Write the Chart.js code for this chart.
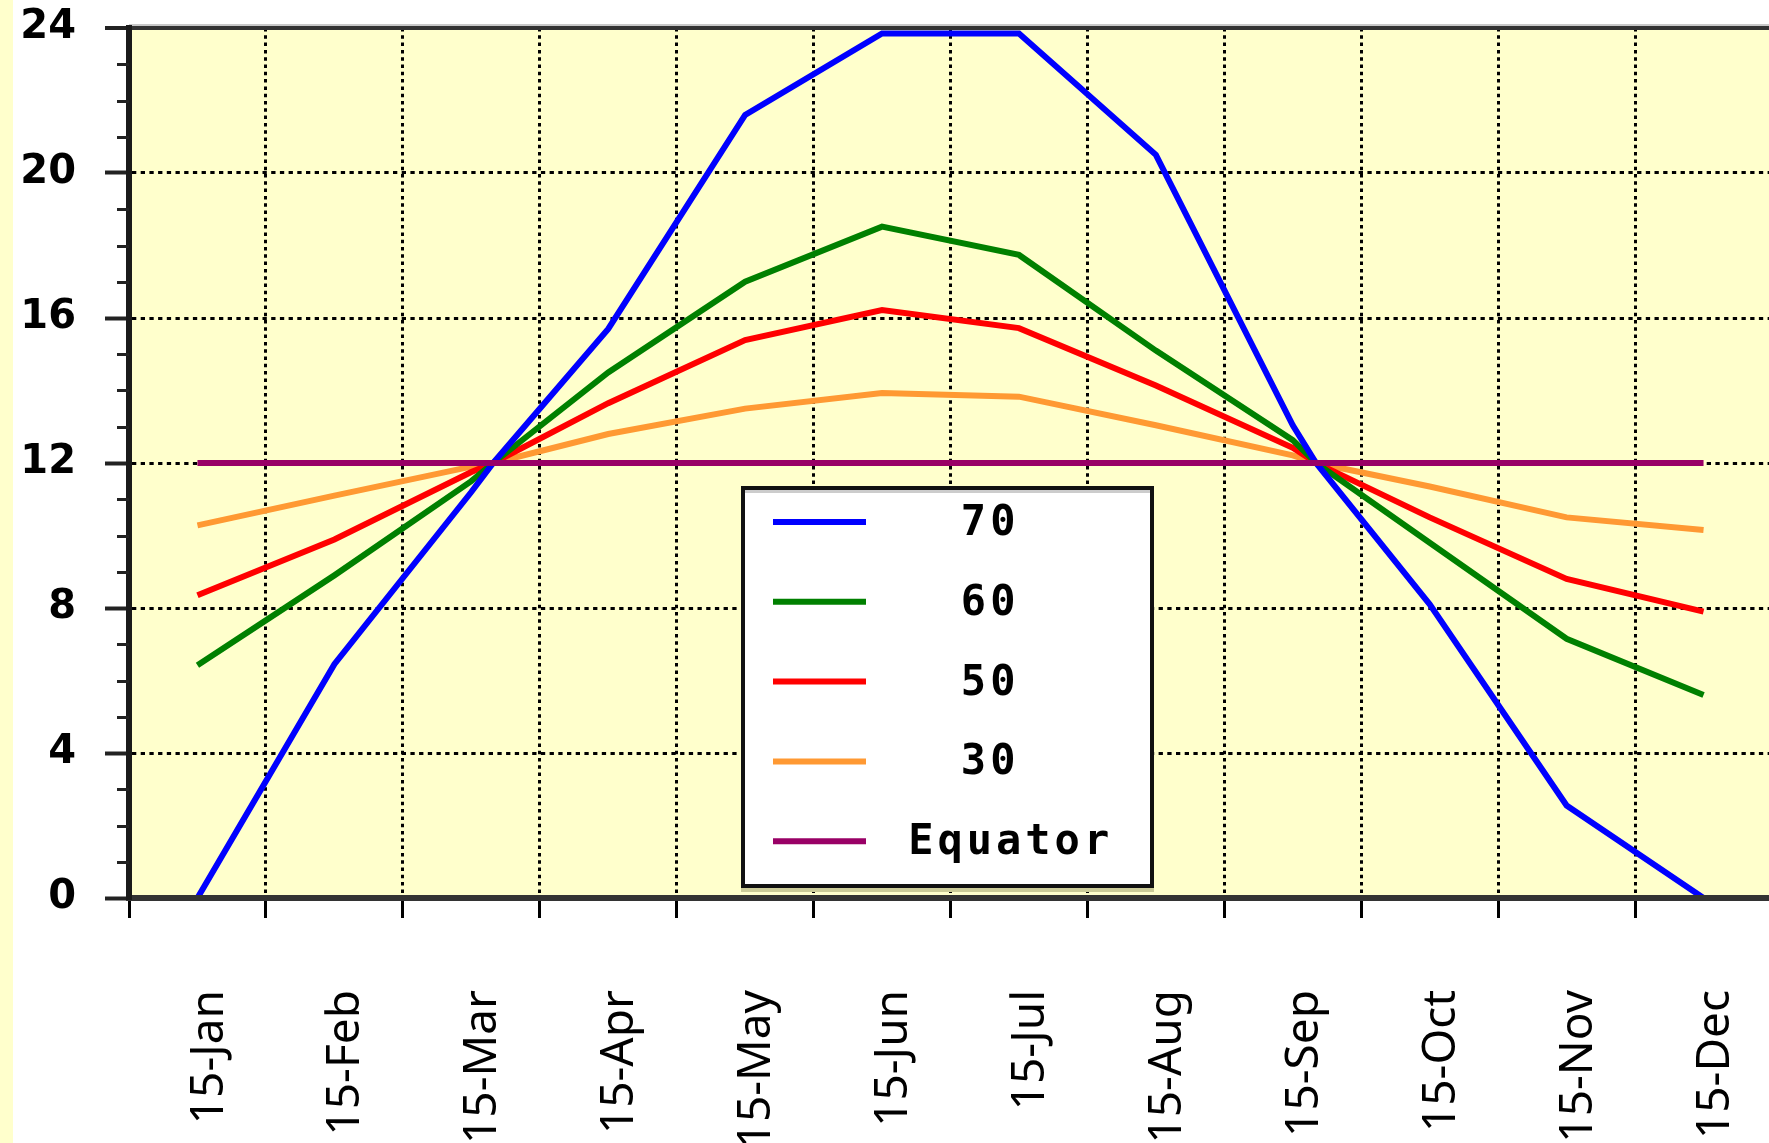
<!DOCTYPE html>
<html>
<head>
<meta charset="utf-8">
<script src="https://cdn.jsdelivr.net/npm/chart.js@4.4.1/dist/chart.umd.min.js"></script>
<style>
html, body { margin:0; padding:0; background:#ffffff; overflow:hidden; width:1769px; height:1143px; }
canvas { position:absolute; left:0; top:0; }
#strip { position:absolute; left:0; top:0; width:13px; height:1143px; background:#FFFFCC; }
</style>
</head>
<body>
<canvas id="c" width="1772" height="1143"></canvas>
<div id="strip"></div>
<script>
// ---- data ----
// category tick labels (one per month, index 0..11)
const months = ['15-Jan','15-Feb','15-Mar','15-Apr','15-May','15-Jun','15-Jul','15-Aug','15-Sep','15-Oct','15-Nov','15-Dec'];
// sample positions in month units (0 = 15-Jan); 2.16 and 8.17 are the equinoxes (~20-Mar, ~20-Sep)
const samplePos = [0, 1, 2, 2.16, 3, 4, 5, 6, 7, 8, 8.17, 9, 10, 11];
// day length (hours) per latitude at those positions
const lat70   = [0,    6.45, 11.2,  12, 15.7,  21.6,  23.85, 23.85, 20.5,  13.04, 12, 8.1,   2.55, 0];
const lat60   = [6.42, 8.9,  11.5,  12, 14.5,  17.0,  18.52, 17.74, 15.1,  12.63, 12, 9.8,   7.15, 5.6];
const lat50   = [8.35, 9.89, 11.75, 12, 13.65, 15.39, 16.22, 15.72, 14.14, 12.42, 12, 10.5,  8.8,  7.9];
const lat30   = [10.28, 11.1, 11.9, 12, 12.8,  13.5,  13.93, 13.83, 13.04, 12.21, 12, 11.35, 10.5, 10.15];
const equator = [12, 12, 12, 12, 12, 12, 12, 12, 12, 12, 12, 12, 12, 12];
const seriesLabels = ['70', '60', '50', '30', 'Equator'];
const yTickLabels = ['0', '4', '8', '12', '16', '20', '24'];

const seriesValues = [lat70, lat60, lat50, lat30, equator];
const seriesColors = ['#0000FF', '#008000', '#FF0000', '#FF9933', '#990066'];
const drawOrder = [1, 2, 3, 4, 0];

const bgPlugin = {
  id: 'bg',
  beforeDraw(chart) {
    const {ctx, chartArea: a} = chart;
    ctx.save();
    ctx.fillStyle = '#FFFFCC';
    ctx.fillRect(a.left, a.top, a.right - a.left, a.bottom - a.top);
    ctx.fillStyle = '#C8C8C8';
    ctx.fillRect(a.left, a.top - 4, a.right - a.left, 2);
    ctx.restore();
  }
};

const minorTicks = {
  id: 'minorTicks',
  afterDraw(chart) {
    const s = chart.scales.y;
    const ctx = chart.ctx;
    ctx.save();
    ctx.strokeStyle = '#222';
    ctx.lineWidth = 3;
    for (let v = 0; v <= 24; v++) {
      if (v % 4 === 0) continue;
      const y = Math.round(s.getPixelForValue(v)) + 0.5;
      ctx.beginPath();
      ctx.moveTo(s.right - 12, y);
      ctx.lineTo(s.right, y);
      ctx.stroke();
    }
    ctx.restore();
  }
};

const boxLegend = {
  id: 'boxLegend',
  afterDatasetsDraw(chart) {
    const ctx = chart.ctx;
    ctx.save();
    ctx.fillStyle = '#CCCC99';
    ctx.fillRect(741, 888, 413, 4);
    ctx.fillStyle = '#FFFFFF';
    ctx.fillRect(741, 486, 413, 402);
    ctx.fillStyle = '#CCCCCC';
    ctx.fillRect(745, 490, 405, 3);
    ctx.lineWidth = 4;
    ctx.strokeStyle = '#111';
    ctx.strokeRect(743, 488, 409, 398);
    chart.data.datasets.forEach((ds, i) => {
      const y = 522 + i * 79.8;
      ctx.strokeStyle = ds.borderColor;
      ctx.lineWidth = 6;
      ctx.beginPath();
      ctx.moveTo(773, y);
      ctx.lineTo(866, y);
      ctx.stroke();
      ctx.font = 'bold 42px "DejaVu Sans Mono"';
      ctx.letterSpacing = '4px';
      ctx.fillStyle = '#000';
      ctx.textBaseline = 'middle';
      ctx.textAlign = 'left';
      const w = ctx.measureText(ds.label).width;
      const left = 960 - 0.36 * (w - 61);
      ctx.fillText(ds.label, left, y + 2);
    });
    ctx.restore();
  }
};

const isMonth = (v) => Math.abs(v - Math.round(v)) < 1e-6;

new Chart(document.getElementById('c'), {
  type: 'line',
  data: {
    datasets: seriesLabels.map((lab, i) => ({
      label: lab,
      data: samplePos.map((p, k) => ({ x: p, y: seriesValues[i][k] })),
      borderColor: seriesColors[i],
      backgroundColor: seriesColors[i],
      borderWidth: 6,
      pointRadius: 0,
      tension: 0,
      fill: false,
      order: drawOrder[i]
    }))
  },
  options: {
    responsive: false,
    animation: false,
    devicePixelRatio: 1,
    layout: { padding: { top: 28, right: 0, left: 0, bottom: 0 } },
    plugins: { legend: { display: false }, tooltip: { enabled: false }, title: { display: false } },
    scales: {
      x: {
        type: 'linear',
        min: -0.5, max: months.length - 0.5,
        afterBuildTicks(s) {
          const t = [];
          for (let k = 0; k <= months.length * 2; k++) t.push({ value: -0.5 + k * 0.5 });
          s.ticks = t;
        },
        grid: {
          color: (c) => (c.tick && isMonth(c.tick.value)) ? 'rgba(0,0,0,0)' : '#000',
          tickColor: (c) => (c.tick && isMonth(c.tick.value)) ? 'rgba(0,0,0,0)' : '#000',
          lineWidth: 3, tickLength: 20, tickWidth: 3, tickBorderDash: []
        },
        border: { display: true, color: '#333', width: 6, dash: [3.5, 3.8], z: 1 },
        ticks: {
          autoSkip: false, minRotation: 90, maxRotation: 90, padding: 72, color: '#000', labelOffset: 12,
          font: { family: '"Noto Sans"', size: 46, lineHeight: 0.31 },
          callback: (v) => isMonth(v) ? months[Math.round(v)] : ''
        },
        afterFit(s) { s.height = 245; s.paddingLeft = 0; s.paddingRight = 0; }
      },
      y: {
        min: 0, max: 24,
        ticks: {
          stepSize: 4, padding: 29, color: '#000',
          font: { family: '"DejaVu Sans"', size: 40, weight: 'bold' },
          callback: (v) => yTickLabels[v / 4]
        },
        grid: {
          color: (c) => (c.tick && c.tick.value === 24) ? '#333' : '#000',
          lineWidth: (c) => (c.tick && c.tick.value === 24) ? 4 : 3,
          tickLength: 24, tickWidth: 4, tickColor: '#222', tickBorderDash: []
        },
        border: {
          display: true, color: '#1a1a1a', width: 6, z: 1,
          dash: (c) => (c.tick && c.tick.value === 24) ? [] : [4.3, 4.4]
        },
        afterFit(s) { s.width = 129; s.paddingTop = 0; s.paddingBottom = 0; }
      }
    }
  },
  plugins: [bgPlugin, minorTicks, boxLegend]
});
</script>
</body>
</html>
